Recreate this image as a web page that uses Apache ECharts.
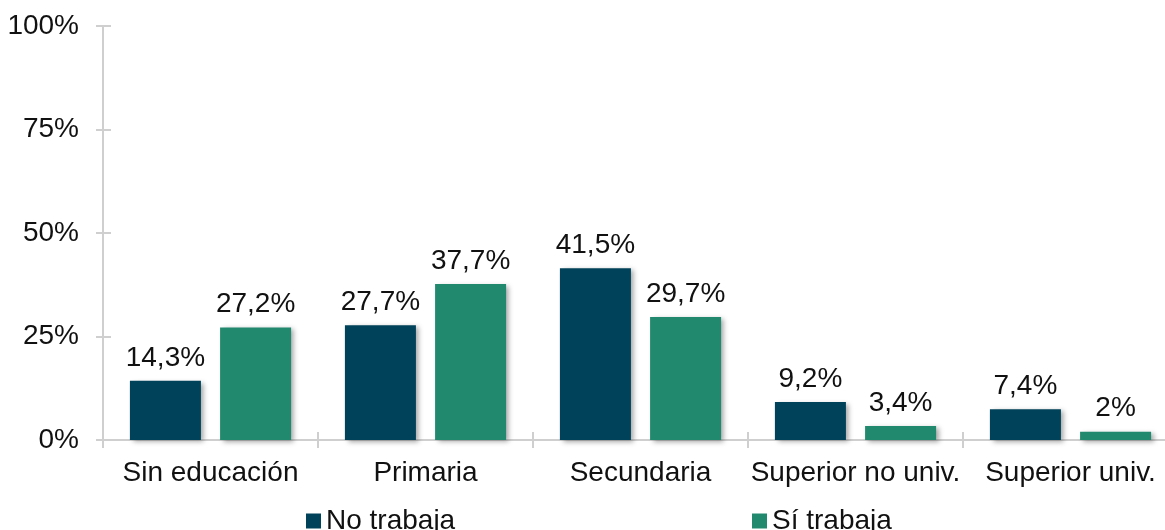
<!DOCTYPE html>
<html>
<head>
<meta charset="utf-8">
<script src="https://cdn.jsdelivr.net/npm/echarts@6/dist/echarts.min.js"></script>
<style>
  html, body { margin: 0; padding: 0; background: #fff; overflow: hidden; }
  /* el eje x continua un poco mas alla del borde derecho */
  #chart { width: 1178px; height: 530px; }
</style>
</head>
<body>
<div id="chart"></div>
<script>
// categorias y valores (%)
const categories = ['Sin educación', 'Primaria', 'Secundaria', 'Superior no univ.', 'Superior univ.'];
const noTrabaja = [14.3, 27.7, 41.5, 9.2, 7.4];
const siTrabaja = [27.2, 37.7, 29.7, 3.4, 2];
const yTicks = [0, 25, 50, 75, 100];

const FONT = 'Liberation Sans, Arial, sans-serif';
const axisColor = '#cfcfcf';

let myChart = echarts.init(document.getElementById('chart'));

// formato con coma decimal
function fmt(v) {
  return String(v).replace('.', ',') + '%';
}

function barSeries(name, data, color) {
  return {
    name: name,
    type: 'bar',
    data: data,
    barWidth: 71,
    barGap: '27%',
    xAxisIndex: 0,
    yAxisIndex: 0,
    itemStyle: {
      color: color,
      shadowColor: 'rgba(0,0,0,0.35)',
      shadowBlur: 5,
      shadowOffsetX: 3,
      shadowOffsetY: 2
    },
    label: {
      show: true,
      position: 'top',
      distance: 9,
      color: '#111',
      fontSize: 28,
      fontFamily: FONT,
      formatter: p => fmt(p.value)
    }
  };
}

let option = {
  animation: false,
  backgroundColor: '#fff',
  grid: { left: 103, top: 26, right: 0, bottom: 90 },
  legend: [
    {
      data: ['No trabaja'],
      left: 301, top: 502,
      itemWidth: 15, itemHeight: 15, itemGap: 7,
      icon: 'rect',
      textStyle: { fontSize: 28, fontFamily: FONT, color: '#111' }
    },
    {
      data: ['Sí trabaja'],
      left: 747, top: 502,
      itemWidth: 15, itemHeight: 15, itemGap: 7,
      icon: 'rect',
      textStyle: { fontSize: 28, fontFamily: FONT, color: '#111' }
    }
  ],
  xAxis: [
    {
      type: 'category',
      data: categories,
      axisLine: { lineStyle: { color: axisColor, width: 2 } },
      axisTick: { show: true, inside: false, length: 8, lineStyle: { color: axisColor, width: 2 } },
      axisLabel: { fontSize: 28, fontFamily: FONT, color: '#111', margin: 19, interval: 0 },
      splitLine: { show: false }
    },
    {
      type: 'category',
      data: categories,
      position: 'bottom',
      axisLine: { show: false },
      axisTick: { show: true, inside: true, length: 8, lineStyle: { color: axisColor, width: 2 } },
      axisLabel: { show: false },
      splitLine: { show: false }
    }
  ],
  yAxis: [
    {
      type: 'value',
      min: 0, max: 100, interval: 25,
      axisLine: { show: true, lineStyle: { color: axisColor, width: 2 } },
      axisTick: { show: true, inside: false, length: 7, lineStyle: { color: axisColor, width: 2 } },
      axisLabel: {
        fontSize: 28, fontFamily: FONT, color: '#111', margin: 24,
        formatter: v => yTicks.includes(v) ? v + '%' : ''
      },
      splitLine: { show: false }
    },
    {
      type: 'value',
      min: 0, max: 100, interval: 25,
      position: 'left',
      axisLine: { show: false },
      axisTick: { show: true, inside: true, length: 8, lineStyle: { color: axisColor, width: 2 } },
      axisLabel: { show: false },
      splitLine: { show: false }
    }
  ],
  series: [
    barSeries('No trabaja', noTrabaja, '#004259'),
    barSeries('Sí trabaja', siTrabaja, '#218a6e')
  ]
};

myChart.setOption(option);
</script>
</body>
</html>
